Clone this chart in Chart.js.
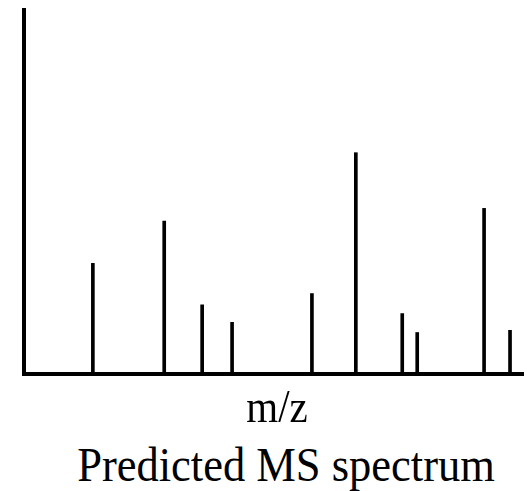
<!DOCTYPE html>
<html>
<head>
<meta charset="utf-8">
<script src="https://cdn.jsdelivr.net/npm/chart.js@4"></script>
<style>
    body { margin: 0; background: #fff; }
    #wrap { position: relative; width: 527px; height: 491px; overflow: hidden; }
    #spectrum { position: absolute; left: 0; top: 0; }
    .label {
        position: absolute;
        font-family: "Liberation Serif", "Times New Roman", serif;
        line-height: 1;
        white-space: nowrap;
        color: #000;
    }
    #xTitle { left: 277px; top: 386px; font-size: 41px; transform: translateX(-50%) scaleY(1.15); }
    #caption { left: 286px; top: 443px; font-size: 44.5px; transform: translateX(-50%) scaleY(1.08); }
</style>
</head>
<body>
<div id="wrap">
    <canvas id="spectrum" width="527" height="380"></canvas>
    <div class="label" id="xTitle">m/z</div>
    <div class="label" id="caption">Predicted MS spectrum</div>
</div>
<script>
// Peak positions (arbitrary m/z scale, 0-100) and relative intensities (0-100)
const mzValues = [13.8, 28.1, 35.7, 41.7, 57.7, 66.5, 75.8, 78.8, 92.2, 97.4];
const intensities = [30.4, 42.0, 19.0, 14.2, 22.1, 60.8, 16.6, 11.4, 45.5, 12.0];

document.addEventListener('DOMContentLoaded', () => {
    const ctx = document.getElementById('spectrum').getContext('2d');
    const peaks = mzValues.map((mz, i) => ({ x: mz, y: intensities[i] }));

    new Chart(ctx, {
        type: 'bar',
        data: {
            datasets: [{
                data: peaks,
                backgroundColor: '#000',
                borderWidth: 0,
                barThickness: 3
            }]
        },
        options: {
            responsive: false,
            animation: false,
            layout: {
                padding: { left: 24, top: 10, right: 4, bottom: 6 }
            },
            plugins: {
                legend: { display: false },
                tooltip: { enabled: false }
            },
            scales: {
                x: {
                    type: 'linear',
                    min: 0,
                    max: 100,
                    offset: false,
                    ticks: { display: false },
                    grid: { display: false, drawTicks: false },
                    border: { display: true, color: '#000', width: 4 }
                },
                y: {
                    min: 0,
                    max: 100,
                    ticks: { display: false },
                    grid: { display: false, drawTicks: false },
                    border: { display: true, color: '#000', width: 4 }
                }
            }
        }
    });
});
</script>
</body>
</html>
